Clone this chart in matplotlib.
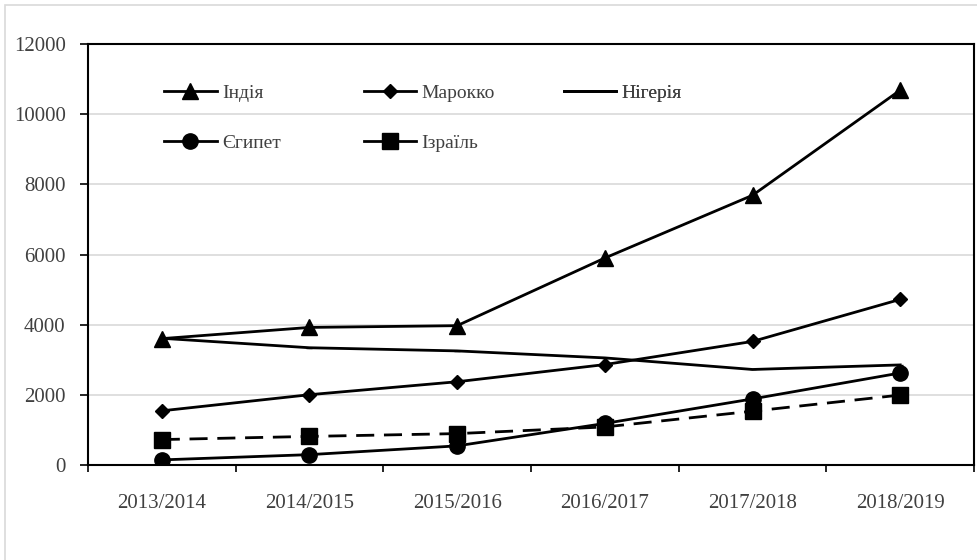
import matplotlib.pyplot as plt
from matplotlib.lines import Line2D
from matplotlib.patches import Rectangle

plt.rcParams["font.family"] = ["Liberation Serif", "DejaVu Serif"]

seasons = ["2013/2014", "2014/2015", "2015/2016", "2016/2017", "2017/2018", "2018/2019"]
india = [3600, 3920, 3970, 5900, 7690, 10690]
morocco = [1540, 2000, 2370, 2860, 3520, 4720]
nigeria = [3610, 3340, 3250, 3050, 2720, 2850]
egypt = [140, 290, 540, 1180, 1880, 2620]
israel = [720, 810, 890, 1080, 1530, 1990]

fig = plt.figure(figsize=(9.77, 5.6), dpi=100)
ax = fig.add_axes((0.090, 0.170, 0.907, 0.751))

# light frame round the chart (only top/left fall inside the image)
fig.patches.append(Rectangle((0.005, -0.02), 1.1, 1.011, transform=fig.transFigure,
                             fill=False, edgecolor="#d9d9d9", linewidth=1.2))

x = range(len(seasons))
lw = 2.0
l_india, = ax.plot(x, india, color="black", lw=lw, marker="^", ms=11, label="Індія")
l_mor, = ax.plot(x, morocco, color="black", lw=lw, marker="D", ms=7.5, label="Марокко")
l_nig, = ax.plot(x, nigeria, color="black", lw=lw, marker="_", ms=4, label="Нігерія")
l_egy, = ax.plot(x, egypt, color="black", lw=lw, marker="o", ms=11, label="Єгипет")
ax.plot(x, israel, color="black", lw=lw, marker="s", ms=11,
        linestyle=(0, (6.5, 3.5)))
# the legend sample for Israel is drawn solid in the original
l_isr = Line2D([], [], color="black", lw=lw, marker="s", ms=11, label="Ізраїль")

ax.set_xlim(-0.5, len(seasons) - 0.5)
ax.set_ylim(0, 12000)
ax.set_yticks(range(0, 12001, 2000))
ax.set_xticks(x)
ax.set_xticklabels(seasons)
ax.set_xticks([i + 0.5 for i in range(-1, len(seasons))], minor=True)
ax.tick_params(axis="x", which="major", length=0, pad=21, labelsize=15,
               labelcolor="#404040")
ax.tick_params(axis="x", which="minor", length=5, direction="out", width=1.2)
ax.tick_params(axis="y", length=6, direction="out", width=1.2, labelsize=15,
               labelcolor="#404040", pad=10)

ax.grid(axis="y", color="#d9d9d9", lw=1.2)
ax.set_axisbelow(True)
for s in ax.spines.values():
    s.set_linewidth(1.5)
    s.set_color("black")

leg_kw = dict(frameon=False, fontsize=14, handlelength=2.7, handletextpad=0.28,
              labelspacing=1.63, borderpad=0, borderaxespad=0, loc="upper left",
              labelcolor="#404040")
cols = [([l_india, l_egy], 0.086), ([l_mor, l_isr], 0.311), ([l_nig], 0.537)]
for handles, xpos in cols:
    leg = ax.legend(handles=handles, bbox_to_anchor=(xpos, 0.904), **leg_kw)
    ax.add_artist(leg)

fig.savefig("out.png", dpi=100)
